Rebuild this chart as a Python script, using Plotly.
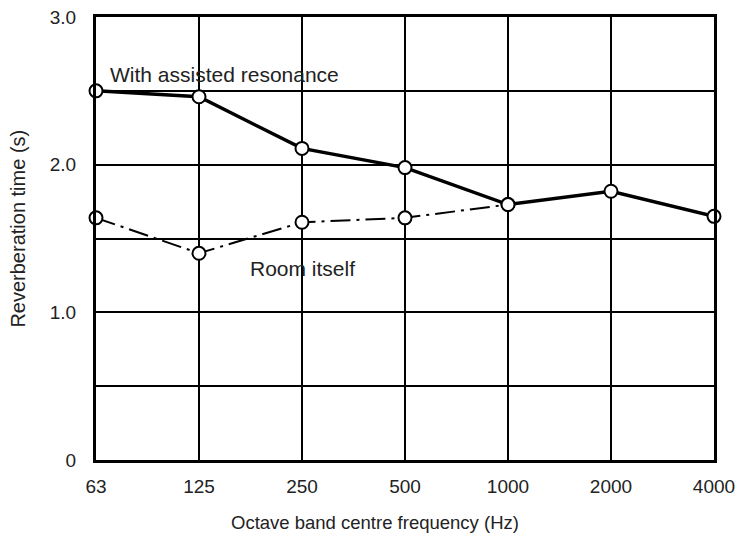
import plotly.graph_objects as go

freqs = ["63", "125", "250", "500", "1000", "2000", "4000"]
assisted = [2.50, 2.46, 2.11, 1.98, 1.73, 1.82, 1.65]
room_freqs = ["63", "125", "250", "500", "1000"]
room = [1.64, 1.40, 1.61, 1.64, 1.73]
y_grid = [0, 0.5, 1.0, 1.5, 2.0, 2.5, 3.0]
y_text = ["0", "", "1.0", "", "2.0", "", "3.0"]

xpos = {f: i for i, f in enumerate(freqs)}

fig = go.Figure()
fig.add_trace(go.Scatter(
    x=[xpos[f] for f in room_freqs], y=room, mode="lines+markers",
    line=dict(color="black", width=2, dash="20px,6px,3px,6px"),
    marker=dict(symbol="circle", size=13, color="white", line=dict(color="black", width=2)),
    cliponaxis=False, showlegend=False))
fig.add_trace(go.Scatter(
    x=[xpos[f] for f in freqs], y=assisted, mode="lines+markers",
    line=dict(color="black", width=3.5),
    marker=dict(symbol="circle", size=13, color="white", line=dict(color="black", width=2)),
    cliponaxis=False, showlegend=False))

fam = "Liberation Sans, Arial, sans-serif"
font = dict(family=fam, size=18, color="#222")

fig.add_annotation(x=0.115, y=2.61, xref="x", yref="y", text="With assisted resonance",
                   showarrow=False, xanchor="left", font=dict(family=fam, size=21, color="#222"))
fig.add_annotation(x=1.48, y=1.30, xref="x", yref="y", text="Room itself",
                   showarrow=False, xanchor="left", font=dict(family=fam, size=21, color="#222"))
# axis titles
fig.add_annotation(x=0.4507, y=-0.142, xref="paper", yref="paper",
                   text="Octave band centre frequency (Hz)", showarrow=False,
                   xanchor="center", yanchor="middle", font=dict(family=fam, size=18.5, color="#222"))
fig.add_annotation(x=-0.126, y=0.5226, xref="paper", yref="paper",
                   text="Reverberation time (s)", showarrow=False, textangle=-90,
                   xanchor="center", yanchor="middle", font=dict(family=fam, size=20, color="#222"))

fig.update_layout(
    width=738, height=536,
    margin=dict(l=96, r=24, t=17, b=76),
    paper_bgcolor="white", plot_bgcolor="white",
    font=font,
    xaxis=dict(range=[0, 6], tickvals=list(range(len(freqs))), ticktext=freqs,
               showgrid=True, gridcolor="black", gridwidth=1.5,
               showline=True, linecolor="black", linewidth=3, mirror=True,
               zeroline=False, ticks="", ticklabelstandoff=7, automargin=False,
               tickfont=dict(family=fam, size=19, color="#222")),
    yaxis=dict(range=[0, 3], tickvals=y_grid, ticktext=y_text,
               showgrid=True, gridcolor="black", gridwidth=1.5,
               showline=True, linecolor="black", linewidth=3, mirror=True,
               zeroline=False, ticks="", ticklabelstandoff=13, automargin=False,
               tickfont=dict(family=fam, size=19, color="#222")),
)

fig.write_html("out.html", config={"displayModeBar": False},
               post_script="document.body.style.margin='0';document.body.style.overflow='hidden';")
